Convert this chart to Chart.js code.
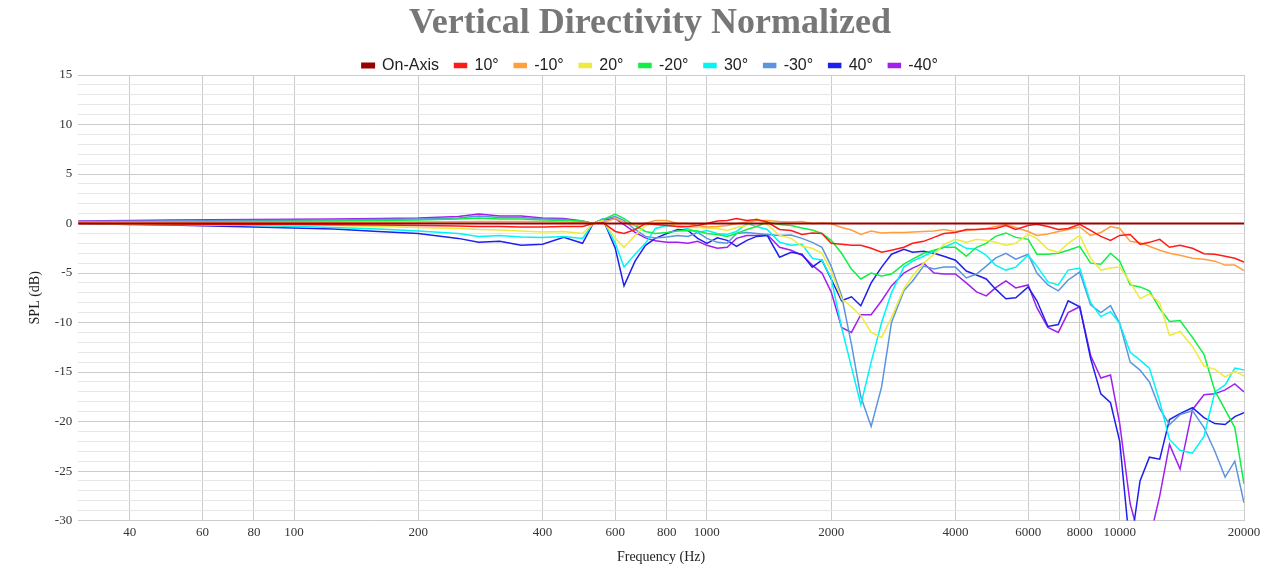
<!DOCTYPE html>
<html>
<head>
<meta charset="utf-8">
<title>Vertical Directivity Normalized</title>
<script src="https://cdn.jsdelivr.net/npm/chart.js@4.4.1/dist/chart.umd.min.js"></script>
<style>
  html, body { margin: 0; padding: 0; background: #fff; }
  #wrap { width: 1280px; height: 580px; position: relative; }
</style>
</head>
<body>
<div id="wrap"><canvas id="chart"></canvas></div>
<script>
// Frequencies (Hz) shared by every curve
const freqs = [
  30, 40, 50, 63, 80, 100, 125, 160, 200, 250, 280, 315, 355, 400, 450, 500,
  530, 560, 600, 630, 670, 710, 750, 800, 850, 900, 950, 1000,
  1060, 1120, 1180, 1250, 1320, 1400, 1500, 1600, 1700, 1800, 1900, 2000,
  2120, 2240, 2360, 2500, 2650, 2800, 3000, 3150, 3350, 3550, 3750, 4000,
  4250, 4500, 4750, 5000, 5300, 5600, 6000, 6300, 6700, 7100, 7500, 8000,
  8500, 9000, 9500, 10000, 10600, 11200, 11800, 12500, 13200, 14000, 15000, 16000,
  17000, 18000, 19000, 20000
];

const xTickValues = [40, 60, 80, 100, 200, 400, 600, 800, 1000, 2000, 4000, 6000, 8000, 10000, 20000];

const onAxis = [
  0, 0, 0, 0, 0, 0, 0, 0, 0, 0, 0, 0, 0, 0, 0, 0,
  0, 0, 0, 0, 0, 0, 0, 0, 0, 0, 0, 0,
  0, 0, 0, 0, 0, 0, 0, 0, 0, 0, 0, 0,
  0, 0, 0, 0, 0, 0, 0, 0, 0, 0, 0, 0,
  0, 0, 0, 0, 0, 0, 0, 0, 0, 0, 0, 0,
  0, 0, 0, 0, 0, 0, 0, 0, 0, 0, 0, 0,
  0, 0, 0, 0
];
const deg10 = [
  0, -0.02, -0.05, -0.07, -0.1, -0.1, -0.12, -0.15, -0.2, -0.25, -0.3, -0.3, -0.35, -0.35, -0.3, -0.3,
  0.0, 0.1, -0.8, -1.0, -0.6, 0.0, -0.1, -0.2, -0.3, -0.3, -0.2, 0.0,
  0.25, 0.3, 0.5, 0.3, 0.4, 0.15, -0.6, -0.7, -1.1, -0.95, -1.0, -2.0,
  -2.1, -2.2, -2.2, -2.5, -2.9, -2.7, -2.4, -2.0, -1.8, -1.4, -1.0, -0.9,
  -0.6, -0.6, -0.55, -0.5, -0.2, -0.6, -0.2, -0.07, -0.3, -0.6, -0.5, -0.07,
  -0.7, -1.3, -1.7, -1.2, -1.1, -2.1, -1.9, -1.6, -2.4, -2.2, -2.5, -3.05,
  -3.1, -3.3, -3.5, -3.9
];
const degM10 = [
  0.1, 0.1, 0.1, 0.1, 0.12, 0.12, 0.13, 0.15, 0.15, 0.18, 0.2, 0.2, 0.2, 0.2, 0.15, 0.1,
  0.0, 0.1, 0.5, 0.1, -0.2, 0.0, 0.3, 0.3, 0.0, 0.0, -0.2, -0.35,
  -0.3, -0.2, 0.0, 0.15, 0.3, 0.3, 0.2, 0.15, 0.2, 0.0, 0.05, 0.0,
  -0.4, -0.65, -1.1, -0.75, -0.95, -0.9, -0.9, -0.85, -0.8, -0.75, -0.6, -0.8,
  -0.7, -0.6, -0.5, -0.3, -0.1, -0.4, -0.8, -1.2, -1.05, -0.8, -0.6, -0.35,
  -1.2, -0.9, -0.3, -0.5, -1.8, -1.95, -2.3, -2.7, -3.0, -3.2, -3.5, -3.6,
  -3.8, -4.2, -4.2, -4.75
];
const deg20 = [
  0, -0.05, -0.08, -0.1, -0.12, -0.15, -0.2, -0.3, -0.4, -0.5, -0.6, -0.65, -0.75, -0.85, -0.8, -1.0,
  0.0, 0.3, -1.5, -2.4, -1.2, -0.2, 0.0, 0.05, -0.2, -0.4, -0.4, -0.45,
  -0.5, -0.7, -0.4, -0.2, 0.5, -0.1, -1.2, -1.5, -2.3, -2.5, -3.0, -4.8,
  -7.6, -8.4, -9.3, -11.0, -11.5, -9.5, -6.6, -5.3, -4.0, -3.1, -2.1, -1.6,
  -1.9, -1.6, -1.7, -1.9, -2.2, -2.0, -1.1, -1.5, -2.6, -2.9, -2.0, -1.2,
  -3.5, -4.7, -4.5, -4.4, -5.9, -7.6, -7.1, -8.0, -11.3, -10.9, -12.4, -14.4,
  -14.7, -15.5, -14.9, -15.4
];
const degM20 = [
  0.1, 0.12, 0.15, 0.17, 0.2, 0.22, 0.25, 0.3, 0.35, 0.45, 0.55, 0.45, 0.45, 0.35, 0.3, 0.25,
  0.0, 0.4, 0.95, 0.5, -0.2, -0.8, -1.0, -0.9, -0.75, -0.7, -0.75, -1.0,
  -1.1, -1.3, -1.0, -0.6, -0.3, 0.15, -0.1, -0.2, -0.45, -0.65, -1.0, -1.7,
  -3.0, -4.6, -5.6, -5.0, -5.3, -5.1, -4.1, -3.6, -3.0, -2.7, -2.4, -2.4,
  -3.3, -2.4, -2.0, -1.3, -0.95, -1.4, -1.6, -3.1, -3.1, -3.0, -2.7, -2.3,
  -4.0, -4.1, -3.0, -3.8, -6.2, -6.4, -6.8, -8.6, -9.9, -9.8, -11.5, -13.2,
  -16.9, -18.8, -20.6, -26.3
];
const deg30 = [
  0, -0.05, -0.1, -0.15, -0.2, -0.3, -0.4, -0.55, -0.75, -1.0, -1.3, -1.2, -1.35, -1.4, -1.3, -1.5,
  0.0, 0.4, -2.0, -4.4, -3.1, -2.0, -0.5, -0.2, -0.3, -0.5, -0.9, -0.7,
  -1.0, -1.1, -0.8, 0.0, -0.3, -0.6, -1.9, -2.2, -2.1, -3.5, -3.7, -5.5,
  -10.5, -14.5, -18.3, -14.0, -10.0, -7.0, -4.4, -3.8, -3.3, -2.8, -2.4, -1.9,
  -2.5, -2.6, -3.2, -4.2, -4.7, -4.4, -3.2, -4.3, -5.9, -6.2, -4.7, -4.5,
  -8.0, -9.4, -8.9, -10.1, -13.0, -13.8, -14.6, -18.0, -21.8, -22.9, -23.2, -21.5,
  -17.0, -16.3, -14.6, -14.8
];
const degM30 = [
  0.2, 0.22, 0.25, 0.28, 0.3, 0.32, 0.35, 0.4, 0.45, 0.55, 0.75, 0.6, 0.6, 0.45, 0.4, 0.2,
  0.0, 0.4, 0.7, 0.3, -0.6, -1.3, -1.45, -1.35, -1.2, -1.3, -0.9, -1.5,
  -1.9, -2.0, -1.0, -0.9, -1.0, -1.1, -1.2, -1.15, -1.5, -1.9, -2.4, -4.3,
  -7.3, -12.2, -17.5, -20.5, -16.5, -10.0, -6.8, -5.8, -4.3, -4.6, -4.4, -4.4,
  -5.5, -5.1, -4.3, -3.5, -3.0, -3.6, -3.1, -5.0, -6.2, -6.8, -5.7, -4.9,
  -8.2, -9.0, -8.3, -10.1, -14.0, -14.8, -16.0, -18.7, -20.3, -19.3, -18.9, -20.6,
  -23.0, -25.6, -24.0, -28.2
];
const deg40 = [
  0, -0.1, -0.15, -0.25, -0.35, -0.45, -0.55, -0.8, -1.0, -1.5, -1.9, -1.8, -2.2, -2.1, -1.4, -2.0,
  0.0, 0.45, -2.5, -6.3, -3.8, -2.2, -1.5, -1.0, -0.6, -0.7, -1.5, -2.0,
  -1.45, -1.7, -2.3, -1.7, -1.3, -1.2, -3.4, -2.9, -3.1, -4.4, -3.7, -5.6,
  -7.8, -7.4, -8.3, -6.0, -4.4, -3.1, -2.6, -2.9, -2.8, -3.0, -3.3, -3.7,
  -4.8, -5.2, -5.6, -6.6, -7.6, -7.5, -6.4, -7.8, -10.4, -10.2, -7.8, -8.4,
  -13.6, -17.2, -18.1, -22.0, -33, -26.0, -23.6, -23.8, -19.8, -19.2, -18.6, -19.6,
  -20.2, -20.3, -19.5, -19.1
];
const degM40 = [
  0.25, 0.3, 0.35, 0.38, 0.4, 0.42, 0.45, 0.5, 0.55, 0.7, 0.95, 0.75, 0.75, 0.55, 0.5, 0.25,
  0.0, 0.35, 0.5, -0.1, -0.9, -1.45, -1.75, -1.9, -1.9, -2.0, -1.8, -2.2,
  -2.5, -2.4, -1.5, -1.2, -1.2, -1.1, -2.4, -2.7, -3.2, -4.2, -5.0, -6.9,
  -10.5, -11.0, -9.2, -9.2, -7.8, -6.3, -5.0, -4.5, -4.0, -5.0, -5.1, -5.1,
  -6.0, -6.9, -7.3, -6.5, -5.8, -6.5, -6.2, -8.5, -10.5, -11.0, -9.0, -8.4,
  -13.3, -15.6, -15.3, -20.2, -28.3, -32, -32, -27.5, -22.3, -24.8, -18.8, -17.3,
  -17.2, -16.8, -16.2, -17.0
];

const seriesNames = ['On-Axis', '10°', '-10°', '20°', '-20°', '30°', '-30°', '40°', '-40°'];
const seriesValues = [onAxis, deg10, degM10, deg20, degM20, deg30, degM30, deg40, degM40];
const seriesColors = ['#990000', '#ff1a1a', '#ff9f3f', '#eeea40', '#11ee44', '#00f5f5', '#5b95e0', '#1f1fee', '#a020f0'];

(function () {
  const canvas = document.getElementById('chart');
  if (!canvas || typeof Chart === 'undefined') return;

  const datasets = seriesNames.map((name, i) => ({
    label: name,
    data: freqs.map((f, j) => ({ x: f, y: seriesValues[i][j] })),
    borderColor: seriesColors[i],
    backgroundColor: seriesColors[i],
    borderWidth: i === 0 ? 2 : 1.5,
    pointRadius: 0,
    tension: 0,
    fill: false
  }));

  const serif = "'Liberation Serif', 'Times New Roman', serif";

  // title + legend sit a bit right of the canvas centre in the original
  const headerShift = {
    id: 'headerShift',
    afterLayout(chart) {
      const dx = 16;
      [chart.titleBlock, chart.legend].forEach(b => {
        if (b) { b.left += dx; b.right += dx; }
      });
    }
  };

  new Chart(canvas.getContext('2d'), {
    type: 'line',
    data: { datasets },
    plugins: [headerShift],
    options: {
      responsive: true,
      maintainAspectRatio: false,
      animation: false,
      layout: { padding: { left: 24, right: 36, top: 0, bottom: 14 } },
      plugins: {
        title: {
          display: true,
          text: 'Vertical Directivity Normalized',
          color: '#777',
          font: { family: serif, size: 36, weight: 'bold', lineHeight: 1 },
          padding: { top: 6, bottom: 0 }
        },
        legend: {
          display: true,
          position: 'top',
          maxHeight: 33,
          labels: {
            color: '#222',
            boxWidth: 12,
            boxHeight: 4,
            padding: 15.5,
            font: { family: "'Liberation Sans', Arial, sans-serif", size: 16 }
          }
        },
        tooltip: { enabled: false }
      },
      scales: {
        x: {
          type: 'logarithmic',
          min: 30,
          max: 20000,
          afterBuildTicks: (axis) => { axis.ticks = xTickValues.map(v => ({ value: v })); },
          ticks: {
            autoSkip: false,
            maxRotation: 0,
            padding: 4,
            color: '#333',
            font: { family: serif, size: 13 },
            callback: (v) => String(v)
          },
          grid: { color: '#cccccc', drawTicks: false },
          border: { display: false },
          title: {
            display: true,
            text: 'Frequency (Hz)',
            color: '#222',
            font: { family: serif, size: 14 },
            padding: { top: 5, bottom: 0 }
          }
        },
        y: {
          min: -30,
          max: 15,
          ticks: {
            stepSize: 1,
            autoSkip: false,
            padding: 6,
            color: '#333',
            font: { family: serif, size: 13 },
            callback: (v) => (v % 5 === 0 ? String(v) : '')
          },
          grid: {
            drawTicks: false,
            color: (ctx) => (ctx.tick && ctx.tick.value % 5 === 0 ? '#cccccc' : '#e6e6e6')
          },
          border: { display: false },
          title: {
            display: true,
            text: 'SPL (dB)',
            color: '#222',
            font: { family: serif, size: 14 },
            padding: { top: 3, bottom: 5 }
          }
        }
      }
    }
  });
})();
</script>
</body>
</html>
